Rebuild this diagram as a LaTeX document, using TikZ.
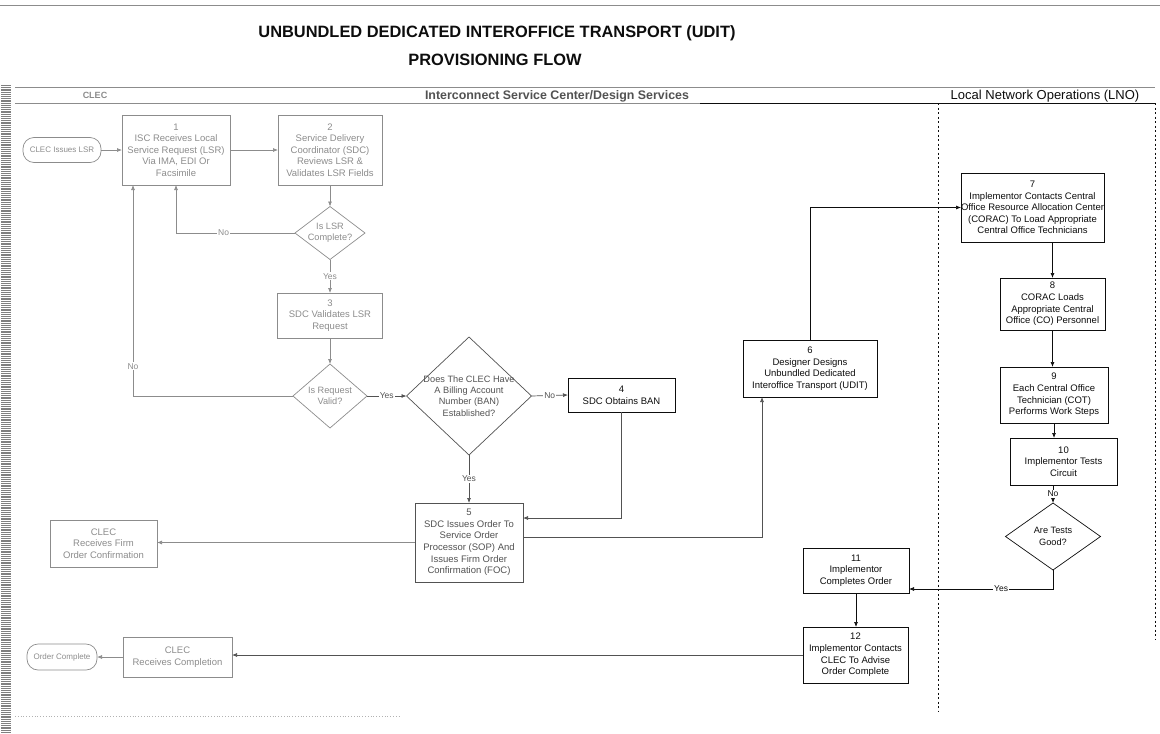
\documentclass[tikz,border=0pt]{standalone}
\usepackage{fontspec}
\setmainfont{Liberation Sans}
\usetikzlibrary{arrows.meta,shapes.geometric}

\definecolor{inkfaint}{gray}{0.55}
\definecolor{inkmid}{gray}{0.32}
\definecolor{ink}{gray}{0.05}

\tikzset{
  flowbox/.style={draw, rectangle, line width=0.7pt, inner sep=0pt, outer sep=0pt,
    align=center, font=\fontsize{9.5}{11.6}\selectfont},
  term/.style={draw, rectangle, rounded corners=11pt, line width=0.7pt, inner sep=0pt,
    outer sep=0pt, align=center, font=\fontsize{8}{10}\selectfont},
  decision/.style={draw, diamond, line width=0.7pt, inner sep=0pt, outer sep=0pt},
  dtext/.style={align=center, inner sep=0pt, font=\fontsize{9.2}{11.4}\selectfont},
  flow/.style={line width=0.7pt, -{Latex[length=5pt,width=4pt]}},
  tag/.style={fill=white, inner sep=1pt, font=\fontsize{8.5}{10}\selectfont},
  lane/.style={line width=0.7pt, dash pattern=on 2pt off 2.5pt},
}

\begin{document}
\begin{tikzpicture}[x=1pt,y=-1pt]
\useasboundingbox (0,0) rectangle (1160,734);

% page edges and rules
\draw[inkfaint, line width=0.8pt] (0,5) -- (1160,5);
\draw[black!50, line width=10pt, dash pattern=on 1.2pt off 1pt] (6,85) -- (6,734);
\draw[inkfaint, line width=0.9pt] (15,87) -- (1155,87);
\draw[inkfaint, line width=0.9pt] (15,103) -- (700,103);
\draw[ink, line width=0.9pt] (700,103) -- (1155,103);
\draw[black!30, line width=0.8pt, dotted] (15,716) -- (400,716);

% title
\node[ink, font=\fontsize{16.4}{19}\selectfont\bfseries] (title1) at (497,33)
  {UNBUNDLED DEDICATED INTEROFFICE TRANSPORT (UDIT)};
\node[ink, font=\fontsize{16.4}{19}\selectfont\bfseries] (title2) at (495,60)
  {PROVISIONING FLOW};

% lane headings and dividers
\node[inkfaint, font=\fontsize{9}{10}\selectfont\bfseries] (laneclec) at (95,95) {CLEC};
\node[inkmid, font=\fontsize{12.4}{13}\selectfont\bfseries] (laneisc) at (557,96)
  {Interconnect Service Center/Design Services};
\node[ink, font=\fontsize{13}{14}\selectfont] (lanelno) at (1045,96)
  {Local Network Operations (LNO)};
\draw[lane, ink] (938,103) -- (938,712);
\draw[lane, ink] (1155,103) -- (1155,640);

% ---- CLEC and service centre steps
\node[term, inkfaint, minimum width=78pt, minimum height=25pt] (o1) at (62,150)
  {CLEC Issues LSR};
\node[flowbox, inkfaint, minimum width=108pt, minimum height=70pt] (b1) at (176,150)
  {1\\ISC Receives Local\\Service Request (LSR)\\Via IMA, EDI Or\\Facsimile};
\node[flowbox, inkfaint, minimum width=104pt, minimum height=70pt] (b2) at (330,150)
  {2\\Service Delivery\\Coordinator (SDC)\\Reviews LSR \&\\Validates LSR Fields};
\node[decision, inkfaint, minimum width=70pt, minimum height=53pt] (d1) at (330,233) {};
\node[dtext, inkfaint] (d1t) at (d1) {Is LSR\\Complete?};
\node[flowbox, inkfaint, minimum width=105pt, minimum height=45pt] (b3) at (330,315.5)
  {3\\SDC Validates LSR\\Request};
\node[decision, inkfaint, minimum width=74pt, minimum height=64pt] (d2) at (330,396) {};
\node[dtext, inkfaint] (d2t) at (d2) {Is Request\\Valid?};
\node[decision, inkmid, minimum width=125pt, minimum height=118pt] (d3) at (469,396) {};
\node[dtext, inkmid] (d3t) at (d3) {Does The CLEC Have\\A Billing Account\\Number (BAN)\\Established?};
\node[flowbox, ink, minimum width=107pt, minimum height=34pt] (b4) at (621.5,395)
  {4\\SDC Obtains BAN};
\node[flowbox, inkmid, minimum width=108pt, minimum height=79pt] (b5) at (469,542.5)
  {5\\SDC Issues Order To\\Service Order\\Processor (SOP) And\\Issues Firm Order\\Confirmation (FOC)};
\node[flowbox, inkfaint, minimum width=107pt, minimum height=47pt] (c2) at (103.5,543.5)
  {CLEC\\Receives Firm\\Order Confirmation};
\node[flowbox, ink, minimum width=134pt, minimum height=57pt] (b6) at (810,368.5)
  {6\\Designer Designs\\Unbundled Dedicated\\Interoffice Transport (UDIT)};

% ---- local network operations steps
\node[flowbox, ink, minimum width=141pt, minimum height=69pt] (b7) at (1032.5,207.5)
  {7\\Implementor Contacts Central\\Office Resource Allocation Center\\(CORAC) To Load Appropriate\\Central Office Technicians};
\node[flowbox, ink, minimum width=105pt, minimum height=52pt] (b8) at (1052.5,304)
  {8\\CORAC Loads\\Appropriate Central\\Office (CO) Personnel};
\node[flowbox, ink, minimum width=108pt, minimum height=56pt] (b9) at (1054,395)
  {9\\Each Central Office\\Technician (COT)\\Performs Work Steps};
\node[flowbox, ink, minimum width=107pt, minimum height=47pt] (b10) at (1063.5,461.5)
  {10\\Implementor Tests\\Circuit};
\node[decision, ink, minimum width=95pt, minimum height=67pt] (d4) at (1053,536.5) {};
\node[dtext, ink] (d4t) at (d4) {Are Tests\\Good?};
\node[flowbox, ink, minimum width=106pt, minimum height=45pt] (b11) at (856,570.5)
  {11\\Implementor\\Completes Order};
\node[flowbox, ink, minimum width=105pt, minimum height=56pt] (b12) at (855.5,655)
  {12\\Implementor Contacts\\CLEC To Advise\\Order Complete};
\node[flowbox, inkfaint, minimum width=109pt, minimum height=40pt] (c3) at (177.5,657)
  {CLEC\\Receives Completion};
\node[term, inkfaint, minimum width=70pt, minimum height=26pt] (o3) at (62,657)
  {Order Complete};

% ---- connectors
\draw[flow, inkfaint] (o1) -- (b1);
\draw[flow, inkfaint] (b1) -- (b2);
\draw[flow, inkfaint] (b2.south) -- (d1.north);
\draw[flow, inkfaint] (d1.west) -| node[tag, pos=0.3] {No} (b1.south);
\draw[flow, inkfaint] (d1.south) -- node[tag] {Yes} (b3.north);
\draw[flow, inkfaint] (b3.south) -- (d2.north);
\draw[flow, inkfaint] (d2.west) -| node[tag, pos=0.57] {No} ([xshift=-43pt]b1.south);
\draw[flow, inkmid] (d2.east) -- node[tag] {Yes} (d3.west);
\draw[flow, inkmid] (d3.east) -- node[tag] {No} (b4.west);
\draw[flow, inkmid] (d3.south) -- node[tag] {Yes} (b5.north);
\draw[flow, inkmid] (b4.south) |- ([yshift=24.5pt]b5.east);
\draw[flow, inkmid] ([yshift=5.5pt]b5.east) -| ([xshift=-48pt]b6.south);
\draw[flow, inkfaint] (b5.west) -- (c2.east |- b5.west);
\draw[flow, ink] (b6.north) |- (b7.west);
\draw[flow, ink] (b8.north |- b7.south) -- (b8.north);
\draw[flow, ink] (b8.south) -- (b8.south |- b9.north);
\draw[flow, ink] (b9.south) -- (b9.south |- b10.north);
\draw[flow, ink] (d4.north |- b10.south) -- node[tag] {No} (d4.north);
\draw[flow, ink] (d4.south) |- node[tag, pos=0.68] {Yes} ([yshift=-18.5pt]b11.east);
\draw[flow, ink] (b11.south) -- (b11.south |- b12.north);
\draw[flow, inkmid] (b12.west) -- (c3.east |- b12.west);
\draw[flow, inkfaint] (c3.west) -- (o3.east);
\end{tikzpicture}
\end{document}
